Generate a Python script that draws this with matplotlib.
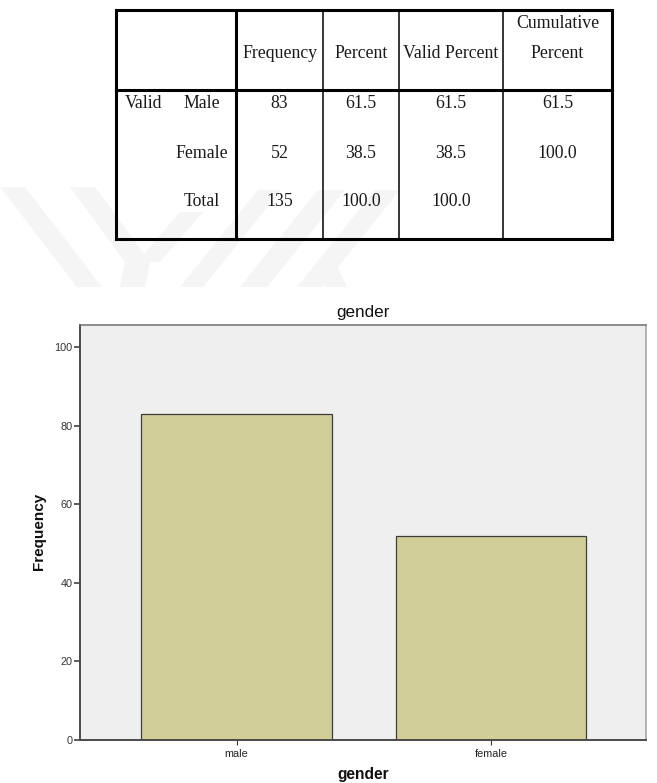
import numpy as np
import matplotlib
matplotlib.use("Agg")
import matplotlib.pyplot as plt
from matplotlib.patches import Polygon

# --- data ---
categories = ["male", "female"]
frequency = [83, 52]

row_labels = ["Male", "Female", "Total"]
col_headers = ["Frequency", "Percent", "Valid Percent", "Cumulative\nPercent"]
freq_col = ["83", "52", "135"]
percent_col = ["61.5", "38.5", "100.0"]
valid_col = ["61.5", "38.5", "100.0"]
cumul_col = ["61.5", "100.0", ""]

yticks = [0, 20, 40, 60, 80, 100]

W, H = 657, 783
fig = plt.figure(figsize=(W / 100, H / 100), dpi=100)

# overlay in pixel coordinates for the table + faint watermark
ov = fig.add_axes([0, 0, 1, 1])
ov.set_xlim(0, W)
ov.set_ylim(H, 0)
ov.axis("off")

wm = "#f5f5f5"
shapes = [
    [(0, 187), (25, 187), (102, 287), (77, 287)],
    [(70, 187), (95, 187), (150, 262), (125, 262)],
    [(125, 262), (150, 262), (145, 287), (120, 287)],
    [(137, 262), (160, 262), (203, 212), (180, 212)],
    [(180, 287), (203, 287), (281, 190), (258, 190)],
    [(240, 287), (267, 287), (345, 190), (318, 190)],
    [(297, 287), (322, 287), (400, 190), (375, 190)],
    [(318, 262), (330, 250), (347, 287), (325, 287)],
]
for s in shapes:
    ov.add_patch(Polygon(s, closed=True, facecolor=wm, edgecolor="none", zorder=0))

# table grid
L, R, T, B = 116, 612, 10, 239
xs = [236, 323, 399, 503]
hdr = 90
thick, thin = 2.2, 1.1
ov.plot([L, R, R, L, L], [T, T, B, B, T], color="black", lw=thick, solid_joinstyle="miter")
ov.plot([xs[0], xs[0]], [T, B], color="black", lw=thick)
ov.plot([L, R], [hdr, hdr], color="black", lw=thick)
for x in xs[1:]:
    ov.plot([x, x], [T, B], color="black", lw=thin)

serif = dict(family="Liberation Serif", fontsize=12.75, color="#1a1a1a")
centers = [(xs[i] + (xs + [R])[i + 1]) / 2 for i in range(4)]
for cx, h in zip(centers, col_headers):
    lines = h.split("\n")
    if len(lines) == 2:
        ov.text(cx, 23, lines[0], ha="center", va="center", **serif)
        ov.text(cx, 53, lines[1], ha="center", va="center", **serif)
    else:
        ov.text(cx, 53, h, ha="center", va="center", **serif)

row_y = [103, 153, 202]
ov.text(125, row_y[0], "Valid", ha="left", va="center", **serif)
for y, lab in zip(row_y, row_labels):
    ov.text(202, y, lab, ha="center", va="center", **serif)
for cx, col in zip(centers, [freq_col, percent_col, valid_col, cumul_col]):
    for y, v in zip(row_y, col):
        ov.text(cx, y, v, ha="center", va="center", **serif)

# --- bar chart ---
ax_l, ax_r, ax_t, ax_b = 80, 646, 325, 740
ax = fig.add_axes([ax_l / W, (H - ax_b) / H, (ax_r - ax_l) / W, (ax_b - ax_t) / H])
ax.set_facecolor("#efefef")
pos = np.arange(len(categories))
ax.bar(pos, frequency, width=0.75, color="#d2ce97", edgecolor="#3c3c3c", linewidth=0.9)
ax.set_xlim(-0.615, 1.609)
ax.set_ylim(0, 105.6)

sans = "Liberation Sans"
ax.set_yticks(yticks)
ax.set_yticklabels([str(t) for t in yticks], fontsize=7.8, family=sans, color="#333333")
ax.set_xticks(pos)
ax.set_xticklabels(categories, fontsize=7.8, family=sans, color="#222222")
ax.tick_params(axis="y", length=4.3, width=1.1, color="#333333", pad=1)
ax.tick_params(axis="x", length=3.6, width=0.8, color="#333333", pad=3)

ax.spines["left"].set_color("#4a4a4a")
ax.spines["left"].set_linewidth(1.4)
ax.spines["bottom"].set_color("#4a4a4a")
ax.spines["bottom"].set_linewidth(1.4)
ax.spines["top"].set_color("#707070")
ax.spines["top"].set_linewidth(1.1)
ax.spines["right"].set_color("#a0a0a0")
ax.spines["right"].set_linewidth(1.1)

ax.set_title("gender", fontsize=12.3, family=sans, color="#111111", pad=6)
ax.set_xlabel("gender", fontsize=11.2, family=sans, weight="bold", color="#111111")
ax.xaxis.set_label_coords(0.5, (ax_b - 775) / (ax_b - ax_t))
ax.xaxis.label.set_va("center")
ax.set_ylabel("Frequency", fontsize=11, family=sans, weight="bold", color="#111111")
ax.yaxis.set_label_coords((39 - ax_l) / (ax_r - ax_l), 0.502)
ax.yaxis.label.set_va("center")

fig.savefig("out.png", dpi=100)
